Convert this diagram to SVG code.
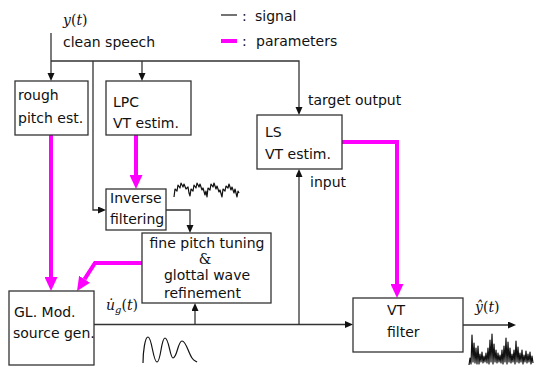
<svg xmlns="http://www.w3.org/2000/svg" width="534" height="367" viewBox="0 0 534 367">
<style>
  .box{fill:#fff;stroke:#333;stroke-width:1.3}
  .sig{fill:none;stroke:#333;stroke-width:1.3}
  .par{fill:none;stroke:#ff00ff;stroke-width:4}
  .t{font-family:"DejaVu Sans",sans-serif;font-size:14px;fill:#111}
  .m{font-family:"DejaVu Serif",serif;font-size:14px;fill:#111}
  .wave{fill:none;stroke:#111;stroke-width:1.2;stroke-linejoin:round}
</style>
<defs>
  <marker id="ab" markerUnits="userSpaceOnUse" markerWidth="8" markerHeight="8" refX="0" refY="3.5" orient="auto">
    <path d="M0,0 L8,3.5 L0,7 z" fill="#111"/>
  </marker>
  <marker id="am" markerUnits="userSpaceOnUse" markerWidth="14" markerHeight="13" refX="0" refY="6.5" orient="auto">
    <path d="M0,0 L14,6.5 L0,13 z" fill="#ff00ff"/>
  </marker>
</defs>
<rect width="534" height="367" fill="#fff"/>

<g id="legend">
  <line x1="221" y1="15" x2="237" y2="15" stroke="#444" stroke-width="1.5"/>
  <text class="t" x="242" y="21">:</text><text class="t" x="255" y="21">signal</text>
  <line x1="221" y1="41" x2="237" y2="41" stroke="#ff00ff" stroke-width="4"/>
  <text class="t" x="242" y="46">:</text><text class="t" x="256" y="46">parameters</text>
</g>

<g id="connectors">
  <path class="sig" d="M51,33 V73" marker-end="url(#ab)"/>
  <path class="sig" d="M51,61 H299 V107" marker-end="url(#ab)"/>
  <path class="sig" d="M142,61 V73" marker-end="url(#ab)"/>
  <path class="sig" d="M93,61 V210 H98" marker-end="url(#ab)"/>
  <path class="sig" d="M166,210 H190 V225" marker-end="url(#ab)"/>
  <path class="sig" d="M94,324.5 H345" marker-end="url(#ab)"/>
  <path class="sig" d="M195,324.5 V311" marker-end="url(#ab)"/>
  <path class="sig" d="M299,324.5 V177" marker-end="url(#ab)"/>
  <path class="sig" d="M463,325 H508" marker-end="url(#ab)"/>
  <path class="par" d="M51,135 V277" marker-end="url(#am)"/>
  <path class="par" d="M136,135 V175" marker-end="url(#am)"/>
  <path class="par" d="M142,263 H95 L84.6,279.2" marker-end="url(#am)"/>
  <path class="par" d="M342,142 H397 V284" marker-end="url(#am)"/>
</g>

<g id="labels">
  <text class="m" x="63" y="25"><tspan font-style="italic">y</tspan>(<tspan font-style="italic">t</tspan>)</text>
  <text class="t" x="63" y="47">clean speech</text>
  <text class="t" x="308" y="105">target output</text>
  <text class="t" x="310" y="187">input</text>
  <text class="m" x="106" y="310"><tspan font-style="italic">u̇</tspan><tspan font-style="italic" font-size="10" dy="3">g</tspan><tspan dy="-3">(</tspan><tspan font-style="italic">t</tspan>)</text>
  <text class="m" x="475" y="312"><tspan font-style="italic">ŷ</tspan>(<tspan font-style="italic">t</tspan>)</text>
</g>

<g id="rough-pitch">
  <rect class="box" x="15" y="81" width="73" height="54"/>
  <text class="t" x="18" y="100">rough</text>
  <text class="t" x="18" y="123">pitch est.</text>
</g>
<g id="lpc">
  <rect class="box" x="106" y="81" width="85" height="54"/>
  <text class="t" x="113" y="107" font-size="15">LPC</text>
  <text class="t" x="113" y="128" font-size="15">VT estim.</text>
</g>
<g id="inverse">
  <rect class="box" x="106" y="189" width="60" height="41"/>
  <text class="t" x="110" y="203" font-size="13">Inverse</text>
  <text class="t" x="110" y="224" font-size="13">filtering</text>
</g>
<g id="fine">
  <rect class="box" x="142" y="233" width="129" height="70"/>
  <text class="t" x="207" y="248" text-anchor="middle">fine pitch tuning</text>
  <text class="m" x="205" y="264" text-anchor="middle" font-size="11">&amp;</text>
  <text class="t" x="207" y="280" text-anchor="middle">glottal wave</text>
  <text class="t" x="164" y="298">refinement</text>
</g>
<g id="gl-source">
  <rect class="box" x="9" y="291" width="85" height="74"/>
  <text class="t" x="14" y="317" font-size="15">GL. Mod.</text>
  <text class="t" x="13" y="338">source gen.</text>
</g>
<g id="ls">
  <rect class="box" x="257" y="115" width="85" height="54"/>
  <text class="t" x="265" y="137" font-size="15">LS</text>
  <text class="t" x="265" y="159" font-size="15">VT estim.</text>
</g>
<g id="vt-filter">
  <rect class="box" x="353" y="298" width="110" height="54"/>
  <text class="t" x="387" y="315" font-size="15">VT</text>
  <text class="t" x="387" y="337" font-size="15">filter</text>
</g>

<g id="waveforms">
  <polyline class="wave" points="174,197 175,189 177,191 178,185 180,188 181,183 183,187 184,184 186,189 188,187 189,193 190,196 191,189 193,191 194,185 196,188 197,183 199,187 200,184 202,190 203,188 205,195 206,191 207,197 208,188 210,190 211,184 213,187 214,183 216,189 217,186 219,192 220,190 222,197 223,189 225,191 226,186 228,188 229,184 231,190 232,187 234,193 235,189 237,197 238,191 239,193"/>
  <path class="wave" d="M143,363 C143,352 145,337 148,337 C152,337 153,362 157,362 C161,362 161,338 165,338 C169,338 170,358 173,358 C177,358 178,341 182,341 C186,341 188,352 192,358 C194,361 196,361 197,362"/>
  <polyline class="wave" points="469,365 470,358 471,364 472,335 473,362 474,343 475,363 476,348 477,364 478,346 479,364 480,354 481,362 482,352 483,363 484,356 485,362 486,353 487,363 488,348 489,364 490,340 491,362 492,334 493,364 494,344 495,362 496,350 497,363 498,353 499,362 500,355 501,363 502,350 503,364 504,346 505,362 506,338 507,364 508,342 509,362 510,348 511,363 512,354 513,362 514,350 515,364 516,341 517,362 518,347 519,363 520,353 521,362 522,350 523,364 524,355 525,362 526,351 527,363 528,354 529,362 530,352 531,364 532,356 533,363"/>
</g>
</svg>
